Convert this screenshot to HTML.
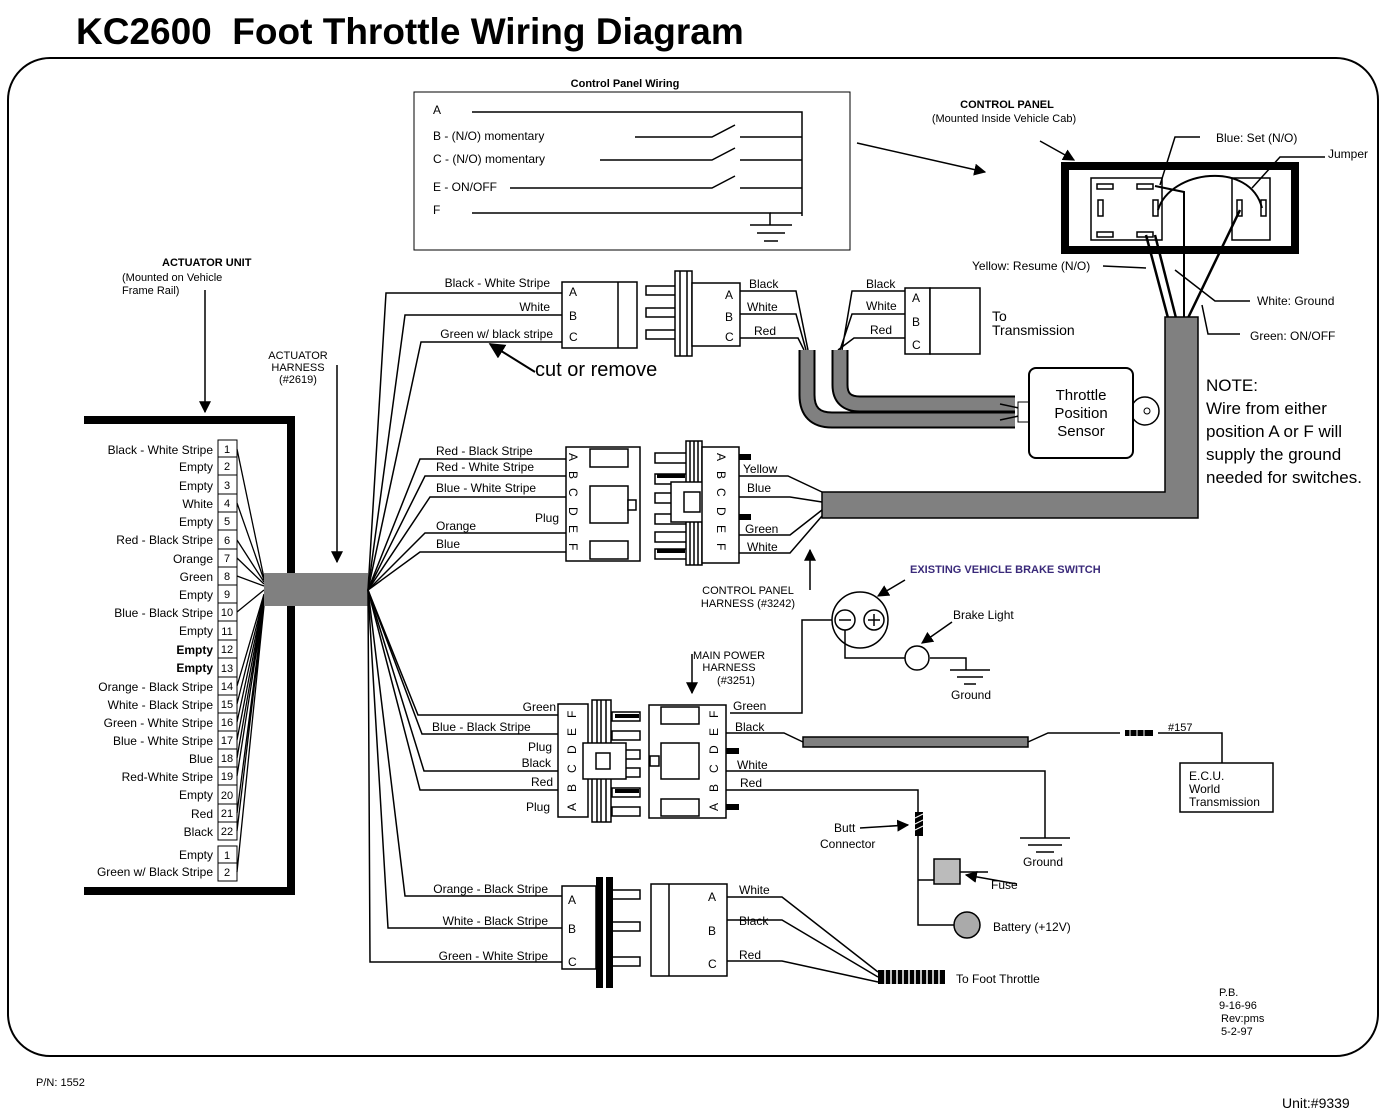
<!DOCTYPE html>
<html><head><meta charset="utf-8"><style>
html,body{margin:0;padding:0;background:#fff}
svg{display:block;font-family:"Liberation Sans",Arial,sans-serif}
</style></head><body>
<svg width="1385" height="1118" viewBox="0 0 1385 1118" xmlns="http://www.w3.org/2000/svg">
<defs>
<marker id="ah" viewBox="0 0 10 10" refX="9" refY="5" markerWidth="8" markerHeight="8" orient="auto"><path d="M0,0 L10,5 L0,10 z" fill="#000"/></marker>
</defs>
<g fill="#000" font-size="12">
<text x="76" y="44" font-size="37" font-weight="bold" xml:space="preserve">KC2600 &#160;Foot Throttle Wiring Diagram</text>
<rect x="8" y="58" width="1370" height="998" rx="42" fill="none" stroke="#000" stroke-width="2"/>
<text x="36" y="1086" font-size="11">P/N: 1552</text>
<text x="1282" y="1108" font-size="14">Unit:#9339</text>

<!-- Control Panel Wiring -->
<text x="625" y="87" font-size="11" font-weight="bold" text-anchor="middle">Control Panel Wiring</text>
<rect x="414" y="92" width="436" height="158" fill="none" stroke="#000" stroke-width="1"/>
<text x="433" y="114">A</text>
<text x="433" y="140">B - (N/O) momentary</text>
<text x="433" y="163">C - (N/O) momentary</text>
<text x="433" y="191">E - ON/OFF</text>
<text x="433" y="214">F</text>
<g stroke="#000" stroke-width="1.5" fill="none">
<path d="M472,112 H802 V216"/>
<path d="M635,137 H712 L735,125 M740,137 H802"/>
<path d="M600,160 H712 L735,148 M740,160 H802"/>
<path d="M510,188 H712 L735,176 M740,188 H802"/>
<path d="M472,213 H770 V225 M750,225 H792 M757,233 H785 M764,241 H778"/>
<path d="M802,213 H770"/>
<path d="M857,143 L985,172" marker-end="url(#ah)"/>
</g>

<!-- Control panel -->
<text x="1007" y="108" font-size="11" font-weight="bold" text-anchor="middle">CONTROL PANEL</text>
<text x="1004" y="122" font-size="11" text-anchor="middle">(Mounted Inside Vehicle Cab)</text>
<path d="M1040,141 L1074,160" stroke="#000" stroke-width="1.5" marker-end="url(#ah)"/>
<rect x="1065" y="166" width="230" height="84" fill="none" stroke="#000" stroke-width="8"/>
<g stroke="#000" stroke-width="1.5" fill="none">
<rect x="1091" y="178" width="71" height="62"/>
<rect x="1232" y="178" width="38" height="62"/>
<rect x="1097" y="184" width="16" height="5"/><rect x="1137" y="184" width="16" height="5"/>
<rect x="1097" y="232" width="16" height="5"/><rect x="1137" y="232" width="16" height="5"/>
<rect x="1098" y="200" width="5" height="16"/><rect x="1153" y="200" width="5" height="16"/>
<rect x="1237" y="200" width="5" height="16"/><rect x="1261" y="200" width="5" height="16"/>
<path d="M1155,186 L1184,192 V318" stroke-width="2"/>
<path d="M1146,235 L1168,318" stroke-width="2.5"/>
<path d="M1155,235 L1176,318" stroke-width="2.5"/>
<path d="M1240,210 L1188,318" stroke-width="2.5"/>
<path d="M1158,210 C1170,170 1250,160 1262,208" stroke-width="2"/>
<path d="M1200,137 H1175 L1160,185" stroke-width="1.5"/>
<path d="M1325,157 H1280 L1252,188" stroke-width="1.5"/>
<path d="M1103,266 L1146,268"/>
<path d="M1250,301 H1215 L1175,270"/>
<path d="M1240,334 H1208 L1202,305"/>
</g>
<text x="1216" y="142">Blue: Set (N/O)</text>
<text x="1328" y="158">Jumper</text>
<text x="972" y="270">Yellow: Resume (N/O)</text>
<text x="1257" y="305">White: Ground</text>
<text x="1250" y="340">Green: ON/OFF</text>

<!-- Gray control cable -->
<path d="M1165,317 H1198 V518 H822 V492 H1165 Z" fill="#808080" stroke="#000" stroke-width="1.5"/>

<text x="1206" y="391" font-size="17">NOTE:</text>
<text x="1206" y="414" font-size="17">Wire from either</text>
<text x="1206" y="437" font-size="17">position A or F will</text>
<text x="1206" y="460" font-size="17">supply the ground</text>
<text x="1206" y="483" font-size="17">needed for switches.</text>

<!-- Actuator unit -->
<text x="162" y="266" font-size="11" font-weight="bold">ACTUATOR  UNIT</text>
<text x="122" y="281" font-size="11">(Mounted on Vehicle</text>
<text x="122" y="294" font-size="11">Frame Rail)</text>
<path d="M205,290 V412" stroke="#000" stroke-width="1.5" marker-end="url(#ah)"/>
<path d="M84,416 H295 V895 H84 V887 H287 V424 H84 Z" fill="#000"/>

<text x="298" y="359" font-size="11" text-anchor="middle">ACTUATOR</text>
<text x="298" y="371" font-size="11" text-anchor="middle">HARNESS</text>
<text x="298" y="383" font-size="11" text-anchor="middle">(#2619)</text>
<path d="M337,365 V562" stroke="#000" stroke-width="1.5" marker-end="url(#ah)"/>

<g font-size="12" text-anchor="end">
<text x="213" y="454">Black - White Stripe</text>
<text x="213" y="471">Empty</text>
<text x="213" y="490">Empty</text>
<text x="213" y="508">White</text>
<text x="213" y="526">Empty</text>
<text x="213" y="544">Red - Black Stripe</text>
<text x="213" y="563">Orange</text>
<text x="213" y="581">Green</text>
<text x="213" y="599">Empty</text>
<text x="213" y="617">Blue - Black Stripe</text>
<text x="213" y="635">Empty</text>
<text x="213" y="654" font-weight="bold">Empty</text>
<text x="213" y="672" font-weight="bold">Empty</text>
<text x="213" y="691">Orange - Black Stripe</text>
<text x="213" y="709">White - Black Stripe</text>
<text x="213" y="727">Green - White Stripe</text>
<text x="213" y="745">Blue - White Stripe</text>
<text x="213" y="763">Blue</text>
<text x="213" y="781">Red-White Stripe</text>
<text x="213" y="799">Empty</text>
<text x="213" y="818">Red</text>
<text x="213" y="836">Black</text>
<text x="213" y="859">Empty</text>
<text x="213" y="876">Green w/ Black Stripe</text>
</g>
<g stroke="#000" stroke-width="1" fill="#fff">
<rect x="218" y="440" width="19" height="17"/><rect x="218" y="457" width="19" height="18"/><rect x="218" y="475" width="19" height="19"/>
<rect x="218" y="494" width="19" height="18"/><rect x="218" y="512" width="19" height="18"/><rect x="218" y="530" width="19" height="19"/>
<rect x="218" y="549" width="19" height="18"/><rect x="218" y="567" width="19" height="18"/><rect x="218" y="585" width="19" height="18"/>
<rect x="218" y="603" width="19" height="18"/><rect x="218" y="621" width="19" height="19"/><rect x="218" y="640" width="19" height="18"/>
<rect x="218" y="658" width="19" height="19"/><rect x="218" y="677" width="19" height="18"/><rect x="218" y="695" width="19" height="18"/>
<rect x="218" y="713" width="19" height="18"/><rect x="218" y="731" width="19" height="18"/><rect x="218" y="749" width="19" height="18"/>
<rect x="218" y="767" width="19" height="18"/><rect x="218" y="785" width="19" height="19"/><rect x="218" y="804" width="19" height="18"/>
<rect x="218" y="822" width="19" height="18"/><rect x="218" y="846" width="19" height="17"/><rect x="218" y="863" width="19" height="18"/>
</g>
<g fill="#000" font-size="11" text-anchor="middle">
<text x="227" y="453">1</text><text x="227" y="470">2</text><text x="227" y="489">3</text><text x="227" y="507">4</text>
<text x="227" y="525">5</text><text x="227" y="544">6</text><text x="227" y="562">7</text><text x="227" y="580">8</text>
<text x="227" y="598">9</text><text x="227" y="616">10</text><text x="227" y="635">11</text><text x="227" y="653">12</text>
<text x="227" y="672">13</text><text x="227" y="690">14</text><text x="227" y="708">15</text><text x="227" y="726">16</text>
<text x="227" y="744">17</text><text x="227" y="762">18</text><text x="227" y="780">19</text><text x="227" y="799">20</text>
<text x="227" y="817">21</text><text x="227" y="835">22</text><text x="227" y="859">1</text><text x="227" y="876">2</text>
</g>
<g stroke="#000" stroke-width="1.3" fill="none">
<path d="M237,449 L264,578 M237,503 L264,580 M237,540 L264,582 M237,558 L264,584 M237,576 L264,586 M237,612 L264,590 M237,686 L264,594 M237,704 L264,596 M237,722 L264,598 M237,740 L264,600 M237,758 L264,602 M237,776 L264,603 M237,813 L264,604 M237,831 L264,605 M237,872 L264,606"/>
</g>
<rect x="264" y="573" width="104" height="33" fill="#808080"/>

<!-- right fan wires -->
<g stroke="#000" stroke-width="1.5" fill="none">
<path d="M368,590 L386,293 H562"/>
<path d="M368,590 L405,315 H562"/>
<path d="M368,590 L421,342 H562"/>
<path d="M368,590 L420,459 H566"/>
<path d="M368,590 L425,476 H566"/>
<path d="M368,590 L430,497 H566"/>
<path d="M368,590 L425,533 H566"/>
<path d="M368,590 L420,552 H566"/>
<path d="M368,590 L418,715 H558"/>
<path d="M368,590 L422,734 H558"/>
<path d="M368,590 L424,771 H558"/>
<path d="M368,590 L420,790 H558"/>
<path d="M368,590 L405,896 H562"/>
<path d="M368,590 L388,928 H562"/>
<path d="M368,590 L370,962 H562"/>
</g>

<!-- Top connector -->
<text x="550" y="287" text-anchor="end">Black - White Stripe</text>
<text x="550" y="311" text-anchor="end">White</text>
<text x="553" y="338" text-anchor="end">Green w/ black stripe</text>
<path d="M535,372 L490,344" stroke="#000" stroke-width="2" marker-end="url(#ah)"/>
<text x="535" y="376" font-size="20">cut or remove</text>
<g stroke="#000" stroke-width="1.5" fill="#fff">
<rect x="562" y="282" width="75" height="66"/>
<path d="M618,282 V348"/>
<rect x="646" y="286" width="32" height="9"/><rect x="646" y="308" width="32" height="9"/><rect x="646" y="330" width="32" height="9"/>
<rect x="675" y="271" width="17" height="85"/>
<path d="M680,271 V356 M687,271 V356"/>
<rect x="692" y="283" width="48" height="63"/>
</g>
<text x="569" y="296">A</text><text x="569" y="320">B</text><text x="569" y="341">C</text>
<text x="725" y="299">A</text><text x="725" y="321">B</text><text x="725" y="341">C</text>
<g stroke="#000" stroke-width="1.5" fill="none">
<path d="M740,291 H796 L808,350 M740,314 H796 L806,350 M740,338 H798 L804,350"/>
<path d="M905,291 H852 L842,350 M905,314 H852 L840,350 M905,338 H854 L838,350"/>
</g>
<text x="749" y="288">Black</text><text x="747" y="311">White</text><text x="754" y="335">Red</text>
<text x="866" y="288">Black</text><text x="866" y="310">White</text><text x="870" y="334">Red</text>
<g stroke="#000" stroke-width="1.5" fill="#fff">
<rect x="905" y="288" width="25" height="66"/><rect x="930" y="288" width="50" height="66"/>
</g>
<text x="912" y="302">A</text><text x="912" y="326">B</text><text x="912" y="349">C</text>
<text x="992" y="321" font-size="14">To</text><text x="992" y="335" font-size="14">Transmission</text>
<!-- sensor cables -->
<path d="M807,350 V395 Q807,420 832,420 H1015" stroke="#000" stroke-width="17" fill="none"/>
<path d="M807,350 V395 Q807,420 832,420 H1015" stroke="#808080" stroke-width="13" fill="none"/>
<path d="M840,350 V385 Q840,404 860,404 H1015" stroke="#000" stroke-width="17" fill="none"/>
<path d="M840,350 V385 Q840,404 860,404 H1015" stroke="#808080" stroke-width="13" fill="none"/>
<path d="M1000,404 L1028,410 M1000,420 L1028,414" stroke="#000" stroke-width="1.5"/>
<rect x="1018" y="402" width="12" height="20" fill="#fff" stroke="#000"/>
<circle cx="1145" cy="411" r="14" fill="#fff" stroke="#000" stroke-width="1.5"/>
<circle cx="1147" cy="411" r="3" fill="#fff" stroke="#000"/>
<rect x="1029" y="368" width="104" height="90" rx="7" fill="#fff" stroke="#000" stroke-width="2"/>
<text x="1081" y="400" font-size="15" text-anchor="middle">Throttle</text>
<text x="1081" y="418" font-size="15" text-anchor="middle">Position</text>
<text x="1081" y="436" font-size="15" text-anchor="middle">Sensor</text>

<!-- Middle connector -->
<text x="436" y="455">Red - Black Stripe</text>
<text x="436" y="471">Red - White Stripe</text>
<text x="436" y="492">Blue - White Stripe</text>
<text x="559" y="522" text-anchor="end">Plug</text>
<text x="436" y="530">Orange</text>
<text x="436" y="548">Blue</text>
<g stroke="#000" stroke-width="1.5" fill="#fff">
<rect x="566" y="447" width="74" height="114"/>
<rect x="590" y="449" width="38" height="18"/><rect x="590" y="486" width="38" height="37"/><rect x="590" y="541" width="38" height="18"/>
<rect x="628" y="500" width="8" height="10"/>
<rect x="655" y="453" width="32" height="10"/><rect x="655" y="474" width="32" height="10"/><rect x="655" y="493" width="32" height="10"/>
<rect x="655" y="514" width="32" height="10"/><rect x="655" y="532" width="32" height="10"/><rect x="655" y="549" width="32" height="10"/>
<rect x="686" y="441" width="16" height="124"/><path d="M690,441 V565 M694,441 V565 M698,441 V565"/>
<rect x="671" y="482" width="42" height="40"/><rect x="684" y="492" width="16" height="20"/>
<rect x="702" y="447" width="37" height="116"/>
</g>
<rect x="739" y="454" width="12" height="6"/><rect x="739" y="514" width="12" height="6"/>
<rect x="657" y="474" width="28" height="4"/><rect x="657" y="549" width="28" height="4"/>
<g font-size="12">
<text transform="translate(569,453) rotate(90)">A</text><text transform="translate(569,471) rotate(90)">B</text>
<text transform="translate(569,488) rotate(90)">C</text><text transform="translate(569,507) rotate(90)">D</text>
<text transform="translate(569,525) rotate(90)">E</text><text transform="translate(569,543) rotate(90)">F</text>
<text transform="translate(717,453) rotate(90)">A</text><text transform="translate(717,471) rotate(90)">B</text>
<text transform="translate(717,488) rotate(90)">C</text><text transform="translate(717,507) rotate(90)">D</text>
<text transform="translate(717,525) rotate(90)">E</text><text transform="translate(717,543) rotate(90)">F</text>
</g>
<g stroke="#000" stroke-width="1.5" fill="none">
<path d="M739,476 H788 L822,492 M739,497 H790 L822,502 M739,535 H790 L822,510 M739,553 H790 L822,516"/>
<path d="M810,590 V550" marker-end="url(#ah)"/>
</g>
<text x="743" y="473">Yellow</text><text x="747" y="492">Blue</text>
<text x="745" y="533">Green</text><text x="747" y="551">White</text>
<text x="748" y="594" font-size="11" text-anchor="middle">CONTROL PANEL</text>
<text x="748" y="607" font-size="11" text-anchor="middle">HARNESS  (#3242)</text>

<!-- Brake switch -->
<text x="910" y="573" font-size="11" font-weight="bold" fill="#3a2a7a">EXISTING VEHICLE BRAKE SWITCH</text>
<path d="M905,580 L878,596" stroke="#000" stroke-width="1.5" marker-end="url(#ah)"/>
<circle cx="860" cy="620" r="28" fill="#fff" stroke="#000" stroke-width="1.5"/>
<circle cx="845" cy="620" r="10" fill="#fff" stroke="#000" stroke-width="1.5"/>
<circle cx="874" cy="620" r="10" fill="#fff" stroke="#000" stroke-width="1.5"/>
<path d="M839,620 H851 M868,620 H880 M874,614 V626" stroke="#000" stroke-width="1.5"/>
<g stroke="#000" stroke-width="1.5" fill="none">
<path d="M845,630 V658 H905 M930,658 H966 V670 M950,670 H990 M957,677 H983 M964,684 H976"/>
<path d="M952,622 L922,643" marker-end="url(#ah)"/>
<path d="M832,620 H802 V713 H730"/>
</g>
<circle cx="917" cy="658" r="12" fill="#fff" stroke="#000" stroke-width="1.5"/>
<text x="953" y="619">Brake Light</text>
<text x="951" y="699">Ground</text>

<!-- Main power connector -->
<text x="729" y="659" font-size="11" text-anchor="middle">MAIN POWER</text>
<text x="729" y="671" font-size="11" text-anchor="middle">HARNESS</text>
<text x="736" y="684" font-size="11" text-anchor="middle">(#3251)</text>
<path d="M692,654 V693" stroke="#000" stroke-width="1.5" marker-end="url(#ah)"/>
<text x="556" y="711" text-anchor="end">Green</text>
<text x="432" y="731">Blue - Black Stripe</text>
<text x="552" y="751" text-anchor="end">Plug</text>
<text x="551" y="767" text-anchor="end">Black</text>
<text x="553" y="786" text-anchor="end">Red</text>
<text x="550" y="811" text-anchor="end">Plug</text>
<g stroke="#000" stroke-width="1.5" fill="#fff">
<rect x="558" y="704" width="30" height="113"/>
<rect x="612" y="712" width="28" height="9"/><rect x="612" y="731" width="28" height="9"/><rect x="612" y="750" width="28" height="9"/>
<rect x="612" y="768" width="28" height="9"/><rect x="612" y="788" width="28" height="9"/><rect x="612" y="807" width="28" height="9"/>
<rect x="592" y="700" width="19" height="122"/><path d="M597,700 V822 M601,700 V822 M606,700 V822"/>
<rect x="583" y="743" width="43" height="36"/><rect x="596" y="753" width="14" height="16"/>
<rect x="649" y="705" width="77" height="113"/>
<rect x="661" y="707" width="38" height="17"/><rect x="661" y="743" width="38" height="36"/><rect x="661" y="799" width="38" height="17"/>
<rect x="650" y="756" width="9" height="10"/>
</g>
<rect x="615" y="714" width="24" height="4"/><rect x="615" y="789" width="24" height="4"/>
<rect x="726" y="748" width="13" height="6"/><rect x="726" y="804" width="13" height="6"/>
<g font-size="12">
<text transform="translate(576,811) rotate(-90)">A</text><text transform="translate(576,792) rotate(-90)">B</text>
<text transform="translate(576,773) rotate(-90)">C</text><text transform="translate(576,754) rotate(-90)">D</text>
<text transform="translate(576,736) rotate(-90)">E</text><text transform="translate(576,718) rotate(-90)">F</text>
<text transform="translate(718,811) rotate(-90)">A</text><text transform="translate(718,792) rotate(-90)">B</text>
<text transform="translate(718,773) rotate(-90)">C</text><text transform="translate(718,754) rotate(-90)">D</text>
<text transform="translate(718,736) rotate(-90)">E</text><text transform="translate(718,718) rotate(-90)">F</text>
</g>
<text x="733" y="710">Green</text><text x="735" y="731">Black</text>
<text x="737" y="769">White</text><text x="740" y="787">Red</text>
<g stroke="#000" stroke-width="1.5" fill="none">
<path d="M726,733 H784 L803,742"/>
<path d="M1028,742 L1048,733 H1120 M1158,733 H1222 V763"/>
<path d="M726,771 H1045 V838 M1020,838 H1070 M1028,845 H1062 M1036,852 H1054"/>
<path d="M726,790 H918 V812 M918,836 V880 H934 M960,872 H988 M918,880 V925 H954"/>
<path d="M860,828 L908,825" marker-end="url(#ah)"/>
<path d="M1017,884 L966,875" marker-end="url(#ah)"/>
</g>
<rect x="803" y="737" width="225" height="10" fill="#808080" stroke="#000" stroke-width="1.5"/>
<rect x="1125" y="730" width="28" height="6" fill="#000"/>
<path d="M1130,730 V736 M1137,730 V736 M1144,730 V736" stroke="#fff"/>
<text x="1168" y="731" font-size="11">#157</text>
<rect x="1180" y="763" width="93" height="49" fill="#fff" stroke="#000" stroke-width="1.5"/>
<text x="1189" y="780">E.C.U.</text><text x="1189" y="793">World</text><text x="1189" y="806">Transmission</text>
<text x="1023" y="866">Ground</text>
<rect x="915" y="812" width="8" height="24" fill="#000"/>
<path d="M915,818 L923,814 M915,824 L923,820 M915,830 L923,826" stroke="#fff"/>
<text x="834" y="832">Butt</text><text x="820" y="848">Connector</text>
<rect x="934" y="859" width="26" height="25" fill="#bbb" stroke="#000" stroke-width="1.5"/>
<text x="991" y="889">Fuse</text>
<circle cx="967" cy="925" r="13" fill="#aaa" stroke="#000" stroke-width="1.5"/>
<text x="993" y="931">Battery (+12V)</text>

<!-- Bottom connector -->
<text x="548" y="893" text-anchor="end">Orange - Black Stripe</text>
<text x="548" y="925" text-anchor="end">White - Black Stripe</text>
<text x="548" y="960" text-anchor="end">Green - White Stripe</text>
<g stroke="#000" stroke-width="1.5" fill="#fff">
<rect x="562" y="886" width="34" height="83"/>
<rect x="612" y="890" width="28" height="9"/><rect x="612" y="922" width="28" height="9"/><rect x="612" y="957" width="28" height="9"/>
<rect x="651" y="884" width="76" height="92"/><path d="M669,884 V976"/>
</g>
<rect x="596" y="877" width="17" height="111" fill="#000"/>
<rect x="603" y="877" width="3" height="111" fill="#fff"/>
<text x="568" y="904">A</text><text x="568" y="933">B</text><text x="568" y="966">C</text>
<text x="708" y="901">A</text><text x="708" y="935">B</text><text x="708" y="968">C</text>
<g stroke="#000" stroke-width="1.5" fill="none">
<path d="M727,897 H782 L878,972 M727,920 H782 L878,977 M727,961 H782 L878,982"/>
</g>
<text x="739" y="894">White</text><text x="739" y="925">Black</text><text x="739" y="959">Red</text>
<rect x="878" y="970" width="67" height="14" fill="#000"/>
<path d="M885,970 V984 M891,970 V984 M897,970 V984 M903,970 V984 M909,970 V984 M915,970 V984 M921,970 V984 M927,970 V984 M933,970 V984 M939,970 V984" stroke="#fff" stroke-width="1.5"/>
<text x="956" y="983">To Foot Throttle</text>

<text x="1219" y="996" font-size="11">P.B.</text>
<text x="1219" y="1009" font-size="11">9-16-96</text>
<text x="1221" y="1022" font-size="11">Rev:pms</text>
<text x="1221" y="1035" font-size="11">5-2-97</text>
</g>
</svg>
</body></html>
